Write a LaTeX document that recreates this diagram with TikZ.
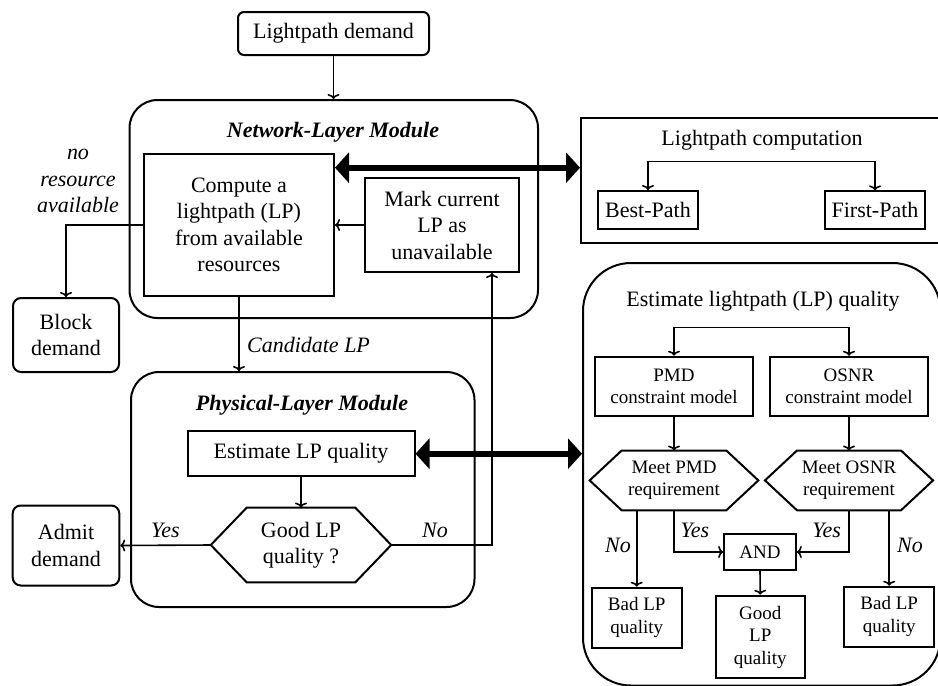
\documentclass[tikz,border=0pt]{standalone}
\usepackage{fontspec}
\setmainfont{Liberation Serif}
\usetikzlibrary{arrows.meta,calc}
\begin{document}
\begin{tikzpicture}[x=1pt,y=-1pt,
  every node/.style={font=\fontsize{22}{26.5}\selectfont, inner sep=0pt},
  sz/.style 2 args={minimum width=#1pt, minimum height=#2pt},
  box/.style={draw, line width=2pt, align=center},
  rbox/.style={box, rounded corners=8pt},
  module/.style={draw, line width=2pt, rounded corners=28pt},
  small/.style={font=\fontsize{19}{22.5}\selectfont},
  ttl/.style={font=\fontsize{22}{26.5}\selectfont\bfseries\itshape},
  lab/.style={font=\fontsize{22}{26.5}\selectfont\itshape, align=center},
  hexline/.style={line width=2pt, line join=miter},
  conn/.style={line width=1.6pt, -{To[length=5pt,width=12pt]}},
  twoway/.style={line width=1.6pt, {To[length=5pt,width=12pt]}-{To[length=5pt,width=12pt]}},
  big/.style={line width=6pt, {Triangle[length=14pt,width=30pt]}-{Triangle[length=14pt,width=30pt]}}]
\useasboundingbox (0,0) rectangle (938,686);
\clip (0,0) rectangle (938,686);

% ---------- left part ----------
\node[rbox, rounded corners=6pt, sz={191}{43}] (demand) at (333.5,33.5) {Lightpath demand};
\node[module, sz={408.5}{218}] (netmod) at (333.75,209) {};
\node[ttl] (nettitle) at (333,132) {Network-Layer Module};
\node[box, sz={190}{142}] (compute) at (239,225) {Compute a\\lightpath (LP)\\from available\\resources};
\node[box, sz={154}{94}] (mark) at (442,225) {Mark current\\LP as\\unavailable};
\node[rbox, sz={106}{74}] (block) at (66,335) {Block\\demand};
\node[lab] (nores) at (78,181) {no\\resource\\available};

\node[module, sz={343.5}{235}] (physmod) at (302.75,489.5) {};
\node[ttl] (phystitle) at (302,405.5) {Physical-Layer Module};
\node[box, sz={227}{45.5}] (estlp) at (301,453.7) {Estimate LP quality};
\node[align=center, sz={180}{74.5}] (goodq) at (301,545) {Good LP\\quality ?};
\draw[hexline] (goodq.west) -- ($(goodq.north west)+(36,0)$) -- ($(goodq.north east)+(-36,0)$) -- (goodq.east) -- ($(goodq.south east)+(-36,0)$) -- ($(goodq.south west)+(36,0)$) -- cycle;
\node[rbox, sz={106.6}{80}] (admit) at (66,545.5) {Admit\\demand};
\node[lab] (cand) at (308.5,345) {Candidate LP};
\node[lab] (yes0) at (165.5,530) {Yes};
\node[lab] (no0) at (435,530) {No};

% ---------- lightpath computation ----------
\node[box, sz={369}{125}] (lc) at (765.5,180.5) {};
\node (lctitle) at (762,140) {Lightpath computation};
\node[box, sz={100.6}{38}] (best) at (648,210) {Best-Path};
\node[box, sz={100}{38}] (first) at (875,210.4) {First-Path};

% ---------- quality estimation ----------
\node[module, rounded corners=48pt, sz={357.5}{422.5}] (qbox) at (761.75,474.25) {};
\node (qtitle) at (763,301.7) {Estimate lightpath (LP) quality};
\node[box, small, sz={157.7}{59}] (pmd) at (674,386.2) {PMD\\constraint model};
\node[box, small, sz={157.7}{59}] (osnr) at (849,386.3) {OSNR\\constraint model};
\node[small, align=center, sz={168.3}{59.3}] (pmdhex) at (674,480.4) {Meet PMD\\requirement};
\draw[hexline] (pmdhex.west) -- ($(pmdhex.north west)+(32,0)$) -- ($(pmdhex.north east)+(-32,0)$) -- (pmdhex.east) -- ($(pmdhex.south east)+(-32,0)$) -- ($(pmdhex.south west)+(32,0)$) -- cycle;
\node[small, align=center, sz={167.7}{59.3}] (osnrhex) at (849,480.4) {Meet OSNR\\requirement};
\draw[hexline] (osnrhex.west) -- ($(osnrhex.north west)+(32,0)$) -- ($(osnrhex.north east)+(-32,0)$) -- (osnrhex.east) -- ($(osnrhex.south east)+(-32,0)$) -- ($(osnrhex.south west)+(32,0)$) -- cycle;
\node[box, small, sz={71.7}{36}] (and) at (760,552) {AND};
\node[box, small, sz={90}{60}] (bad1) at (636.7,617.7) {Bad LP\\quality};
\node[box, small, sz={90.3}{60}] (bad2) at (889.2,616.7) {Bad LP\\quality};
\node[box, small, sz={89.3}{82.6}] (good) at (760.3,637) {Good\\LP\\quality};
\node[lab] (no1) at (618,545) {No};
\node[lab] (yes1) at (695,530) {Yes};
\node[lab] (yes2) at (826.7,530) {Yes};
\node[lab] (no2) at (910,545) {No};

% ---------- connectors ----------
\draw[conn] (demand.south) -- (demand.south |- netmod.north);
\draw[conn] (mark.west) -- (compute.east);
\draw[conn] (compute.west) -| (block.north);
\draw[conn] (compute.south) -- (compute.south |- physmod.north);
\draw[conn] (estlp.south) -- (goodq.north);
\draw[conn] (goodq.west) -- (admit.east);
\draw[conn] (goodq.east) -| ([xshift=-28pt]mark.south east);
\coordinate (t1) at ([yshift=-14.7pt]compute.north east);
\draw[big] (t1) -- (t1 -| lc.west);
\draw[big] (estlp.east) -- (estlp.east -| qbox.west);
\draw[twoway] (best.north) -- ++(0,-28.7) -| (first.north);
\draw[twoway] (pmd.north) -- ++(0,-28.4) -| (osnr.north);
\draw[conn] (pmd.south) -- (pmdhex.north);
\draw[conn] (osnr.south) -- (osnrhex.north);
\draw[conn] (pmdhex.south) |- (and.west);
\draw[conn] (osnrhex.south) |- (and.east);
\draw[conn] ([xshift=-37.3pt]pmdhex.south) -- (bad1.north);
\draw[conn] ([xshift=40.2pt]osnrhex.south) -- (bad2.north);
\draw[conn] (and.south) -- (good.north);
\end{tikzpicture}
\end{document}
